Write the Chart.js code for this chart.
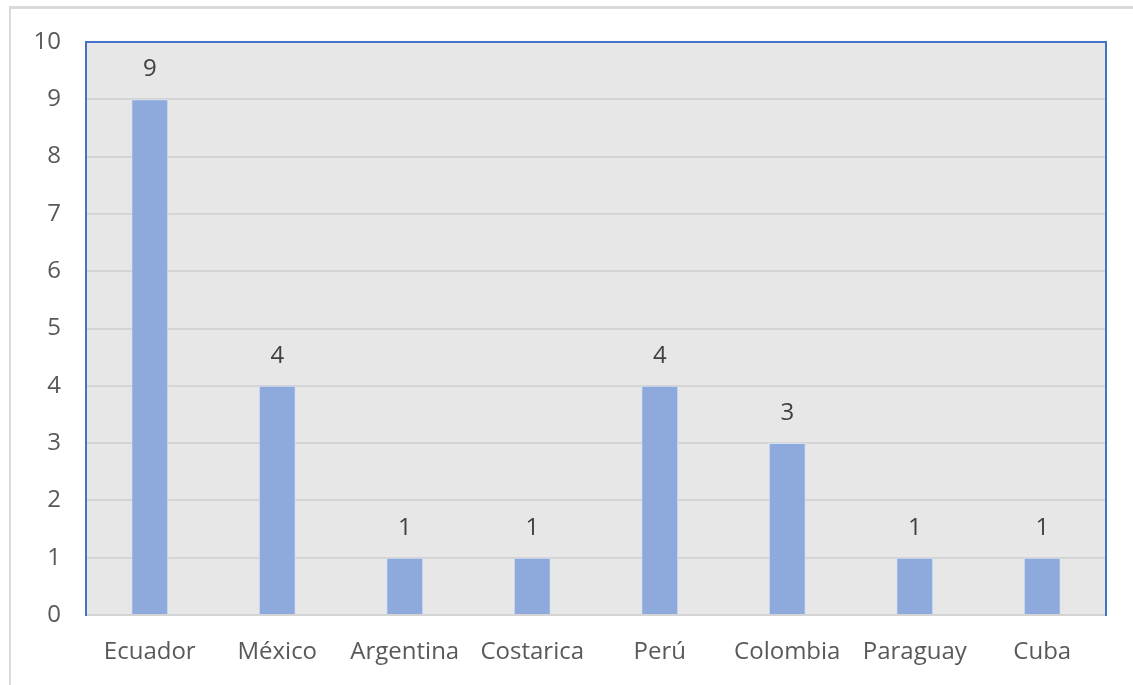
<!DOCTYPE html>
<html>
<head>
<meta charset="utf-8">
<script src="https://cdn.jsdelivr.net/npm/chart.js@4/dist/chart.umd.min.js"></script>
<style>
  html, body { margin: 0; padding: 0; background: #fff; }
  #wrap { position: relative; width: 1133px; height: 685px; }
  #frame {
    position: absolute; left: 9px; top: 6px; right: -10px; bottom: -10px;
    border-left: 2px solid #dadada; border-top: 3px solid #dadada;
  }
  canvas { position: absolute; left: 0; top: 0; }
</style>
</head>
<body>
<div id="wrap">
  <div id="frame"></div>
  <canvas id="paises" width="1133" height="685"></canvas>
</div>
<script>
const paises = ["Ecuador", "México", "Argentina", "Costarica", "Perú", "Colombia", "Paraguay", "Cuba"];
const cantidad = [9, 4, 1, 1, 4, 3, 1, 1];
const yTicks = [0, 1, 2, 3, 4, 5, 6, 7, 8, 9, 10];

const FONT = "'Open Sans', 'Noto Sans', sans-serif";

// grey plot background + blue frame on top, left and right
const plotFrame = {
  id: "plotFrame",
  beforeDraw(chart) {
    const { ctx, chartArea: a } = chart;
    ctx.save();
    ctx.fillStyle = "#e7e7e7";
    ctx.fillRect(a.left, a.top, a.right - a.left, a.bottom - a.top);
    ctx.restore();
  },
  afterDraw(chart) {
    const { ctx, chartArea: a } = chart;
    ctx.save();
    ctx.strokeStyle = "#4472c4";
    ctx.lineWidth = 2;
    ctx.beginPath();
    ctx.moveTo(a.left, a.bottom + 1);
    ctx.lineTo(a.left, a.top);
    ctx.lineTo(a.right, a.top);
    ctx.lineTo(a.right, a.bottom + 1);
    ctx.stroke();
    ctx.restore();
  }
};

// value labels above each bar
const barValues = {
  id: "barValues",
  afterDatasetsDraw(chart) {
    const { ctx } = chart;
    const meta = chart.getDatasetMeta(0);
    ctx.save();
    ctx.fillStyle = "#404040";
    ctx.font = "24px " + FONT;
    ctx.textAlign = "center";
    ctx.textBaseline = "middle";
    meta.data.forEach((bar, i) => {
      ctx.fillText(String(cantidad[i]), bar.x, bar.y - 30);
    });
    ctx.restore();
  }
};

new Chart(document.getElementById("paises"), {
  type: "bar",
  data: {
    labels: paises,
    datasets: [{
      data: cantidad,
      backgroundColor: "#8eaadc",
      borderColor: "#d6e1f3",
      borderWidth: 1,
      barPercentage: 0.29,
      categoryPercentage: 1
    }]
  },
  options: {
    responsive: false,
    animation: false,
    layout: { padding: { left: 0, top: 42, right: 27, bottom: 0 } },
    plugins: {
      legend: { display: false },
      tooltip: { enabled: false }
    },
    scales: {
      x: {
        grid: { display: false },
        border: { display: true, color: "#d4d4d4", width: 2 },
        ticks: {
          color: "#595959",
          font: { family: FONT, size: 24 },
          padding: 15,
          maxRotation: 0,
          autoSkip: false
        },
        afterFit(scale) { scale.height = 70; }
      },
      y: {
        min: 0,
        max: 10,
        afterBuildTicks(scale) { scale.ticks = yTicks.map(v => ({ value: v })); },
        grid: { color: "#d4d4d4", lineWidth: 2, drawTicks: false },
        border: { display: false },
        ticks: {
          color: "#595959",
          font: { family: FONT, size: 24 },
          padding: 25
        },
        afterFit(scale) { scale.width = 86; }
      }
    }
  },
  plugins: [plotFrame, barValues]
});
</script>
</body>
</html>
